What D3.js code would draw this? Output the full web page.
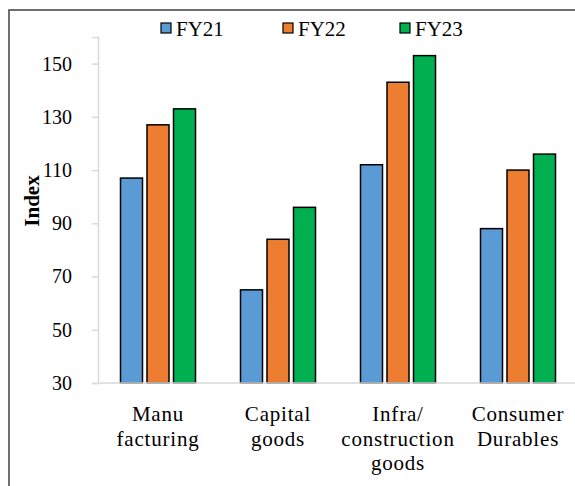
<!DOCTYPE html>
<html>
<head>
<meta charset="utf-8">
<script src="https://cdn.jsdelivr.net/npm/d3@7"></script>
<style>
  body { margin: 0; background: #fff; }
  svg { display: block; font-family: "Liberation Serif", "Times New Roman", serif; }
</style>
</head>
<body>
<div id="chart"></div>
<script>
var categories = ["Manufacturing", "Capital goods", "Infra/construction goods", "Consumer Durables"];
var categoryLines = [["Manu", "facturing"], ["Capital", "goods"], ["Infra/", "construction", "goods"], ["Consumer", "Durables"]];
var seriesNames = ["FY21", "FY22", "FY23"];
var fy21 = [107, 65, 112, 88];
var fy22 = [127, 84, 143, 110];
var fy23 = [133, 96, 153, 116];
var yTicks = [30, 50, 70, 90, 110, 130, 150];
var colors = ["#5b9bd5", "#ed7d31", "#00b050"];

var seriesValues = [fy21, fy22, fy23];

var width = 575, height = 486;
var margin = {top: 37, left: 98, bottom: 103};

var svg = d3.select("#chart").append("svg")
    .attr("width", width)
    .attr("height", height);

// outer frame (right and bottom edges fall outside the picture)
svg.append("rect")
    .attr("x", 9)
    .attr("y", 10)
    .attr("width", 600)
    .attr("height", 500)
    .attr("fill", "none")
    .attr("stroke", "#404040")
    .attr("stroke-width", 1.5);

var x0 = d3.scaleBand()
    .domain(categories)
    .range([margin.left, 578])
    .paddingInner(0.375)
    .paddingOuter(0.1875);

var x1 = d3.scaleBand()
    .domain(seriesNames)
    .range([0, x0.bandwidth()])
    .paddingInner(0.17)
    .paddingOuter(0);

var y = d3.scaleLinear()
    .domain([30, 160])
    .range([height - margin.bottom, margin.top]);

// y axis
var yAxis = svg.append("g")
    .attr("transform", "translate(" + margin.left + ",0)")
    .call(d3.axisLeft(y).tickValues(yTicks).tickSize(6).tickPadding(20));
yAxis.select(".domain").attr("stroke", "#d9d9d9").attr("stroke-width", 1.5);
yAxis.selectAll(".tick line").attr("stroke", "#d9d9d9").attr("stroke-width", 1.5);
yAxis.selectAll(".tick text")
    .attr("font-family", "Liberation Serif, Times New Roman, serif")
    .attr("font-size", 20)
    .attr("fill", "#000");

// bars
var groups = svg.selectAll(".grp")
    .data(categories)
    .enter().append("g")
    .attr("class", "grp")
    .attr("transform", function(d) { return "translate(" + x0(d) + ",0)"; });

groups.selectAll("rect")
    .data(function(d, i) {
        return seriesNames.map(function(s, j) {
            return {s: s, v: seriesValues[j][i], c: colors[j]};
        });
    })
    .enter().append("rect")
    .attr("x", function(d) { return x1(d.s); })
    .attr("y", function(d) { return y(d.v); })
    .attr("width", x1.bandwidth())
    .attr("height", function(d) { return y(30) - y(d.v); })
    .attr("fill", function(d) { return d.c; })
    .attr("stroke", "#000")
    .attr("stroke-width", 1.5);

// x baseline
svg.append("line")
    .attr("x1", margin.left)
    .attr("x2", 578)
    .attr("y1", y(30))
    .attr("y2", y(30))
    .attr("stroke", "#d9d9d9")
    .attr("stroke-width", 1.5);

// category labels
categories.forEach(function(c, i) {
    var t = svg.append("text")
        .attr("text-anchor", "middle")
        .attr("font-size", 21)
        .attr("letter-spacing", 0.8)
        .attr("fill", "#000");
    categoryLines[i].forEach(function(line, k) {
        t.append("tspan")
            .attr("x", x0(c) + x0.bandwidth() / 2)
            .attr("y", 421 + k * 24.5)
            .text(line);
    });
});

// y title
svg.append("text")
    .attr("transform", "translate(39,201) rotate(-90)")
    .attr("text-anchor", "middle")
    .attr("font-size", 21)
    .attr("font-weight", "bold")
    .attr("fill", "#000")
    .text("Index");

// legend
var legendX = [161, 283, 400];
var legend = svg.selectAll(".leg")
    .data(seriesNames)
    .enter().append("g")
    .attr("class", "leg")
    .attr("transform", function(d, i) { return "translate(" + legendX[i] + ",23)"; });
legend.append("rect")
    .attr("width", 10)
    .attr("height", 10)
    .attr("fill", function(d, i) { return colors[i]; })
    .attr("stroke", "#000")
    .attr("stroke-width", 1.2);
legend.append("text")
    .attr("x", 15)
    .attr("y", 13)
    .attr("font-size", 21)
    .attr("fill", "#000")
    .text(function(d) { return d; });
</script>
</body>
</html>
